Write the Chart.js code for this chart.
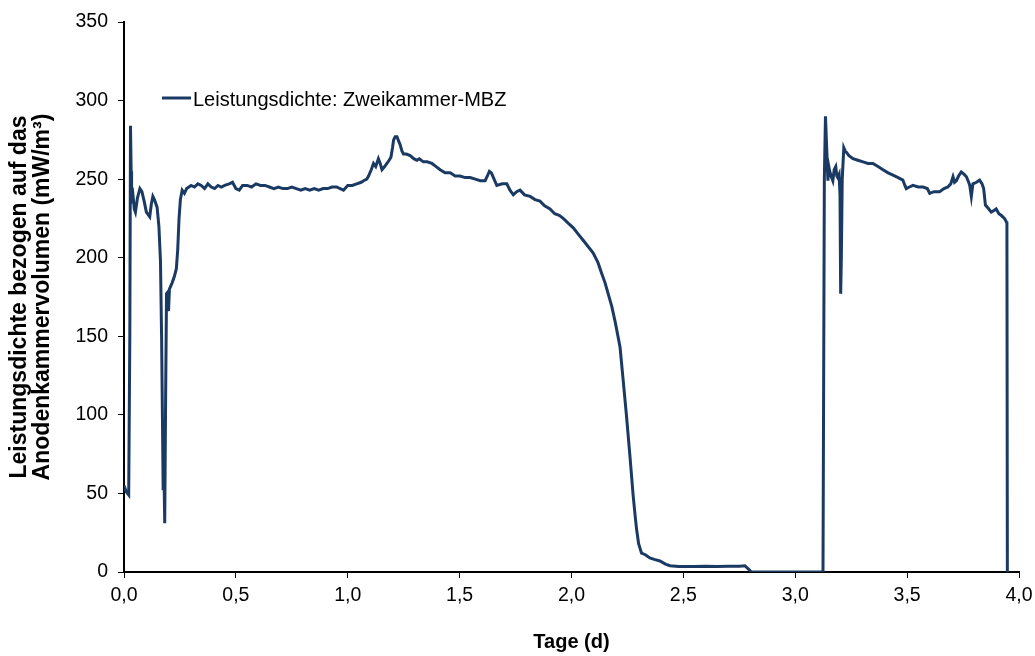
<!DOCTYPE html>
<html>
<head>
<meta charset="utf-8">
<script src="https://cdn.jsdelivr.net/npm/chart.js@4"></script>
<style>
    html, body { margin: 0; padding: 0; background: #fff; }
    #wrap { width: 1035px; height: 656px; }
</style>
</head>
<body>
<div id="wrap"><canvas id="leistungChart"></canvas></div>
<script>
// Tage (d)
const tage = [
    0.000, 0.010, 0.021, 0.026, 0.029, 0.032, 0.034, 0.040, 0.046, 0.051,
    0.060, 0.071, 0.080, 0.090, 0.100, 0.115, 0.122, 0.129, 0.136, 0.148,
    0.156, 0.163, 0.168, 0.172, 0.175, 0.179, 0.182, 0.186, 0.190, 0.195,
    0.199, 0.203, 0.215, 0.225, 0.234, 0.240, 0.246, 0.252, 0.260, 0.270,
    0.280, 0.290, 0.300, 0.315, 0.330, 0.345, 0.360, 0.375, 0.390, 0.405,
    0.420, 0.435, 0.450, 0.470, 0.485, 0.500, 0.515, 0.530, 0.550, 0.570,
    0.590, 0.610, 0.630, 0.650, 0.670, 0.690, 0.710, 0.730, 0.750, 0.770,
    0.790, 0.810, 0.830, 0.850, 0.870, 0.890, 0.910, 0.930, 0.950, 0.966,
    0.981, 1.000, 1.020, 1.040, 1.060, 1.071, 1.085, 1.093, 1.105, 1.115,
    1.125, 1.137, 1.145, 1.153, 1.165, 1.175, 1.185, 1.193, 1.200, 1.205,
    1.212, 1.220, 1.228, 1.234, 1.242, 1.249, 1.262, 1.279, 1.295, 1.309,
    1.320, 1.338, 1.355, 1.376, 1.395, 1.413, 1.435, 1.458, 1.480, 1.502,
    1.525, 1.547, 1.570, 1.592, 1.614, 1.624, 1.633, 1.642, 1.651, 1.660,
    1.666, 1.690, 1.711, 1.725, 1.740, 1.755, 1.770, 1.790, 1.815, 1.837,
    1.859, 1.880, 1.904, 1.925, 1.945, 1.963, 1.985, 2.008, 2.030, 2.053,
    2.075, 2.097, 2.118, 2.135, 2.150, 2.164, 2.180, 2.194, 2.205, 2.217,
    2.231, 2.246, 2.261, 2.276, 2.285, 2.291, 2.300, 2.313, 2.330, 2.350,
    2.370, 2.395, 2.420, 2.440, 2.480, 2.544, 2.600, 2.650, 2.700, 2.750,
    2.775, 2.790, 2.804, 2.900, 3.000, 3.100, 3.124, 3.130, 3.135, 3.141,
    3.146, 3.150, 3.154, 3.160, 3.168, 3.174, 3.181, 3.186, 3.190, 3.196,
    3.200, 3.203, 3.206, 3.210, 3.217, 3.223, 3.229, 3.240, 3.258, 3.280,
    3.303, 3.325, 3.347, 3.370, 3.392, 3.415, 3.437, 3.460, 3.481, 3.490,
    3.496, 3.510, 3.526, 3.550, 3.571, 3.590, 3.601, 3.620, 3.645, 3.665,
    3.682, 3.695, 3.705, 3.712, 3.720, 3.730, 3.742, 3.755, 3.765, 3.775,
    3.780, 3.787, 3.794, 3.810, 3.824, 3.835, 3.842, 3.850, 3.865, 3.876,
    3.888, 3.898, 3.910, 3.920, 3.935, 3.943, 3.946, 3.948
];

// Leistungsdichte (mW/m³)
const leistung = [
    55, 51, 49, 150, 284, 255, 237, 240, 231, 229,
    238, 244, 242, 236, 229, 226, 234, 239, 237, 232,
    220, 198, 150, 95, 52, 60, 31, 110, 177, 178,
    166, 180, 184, 188, 193, 205, 225, 237, 243, 241,
    244, 245, 246, 245, 247, 246, 244, 247, 245, 244,
    246, 245, 246, 247, 248, 244, 243, 246, 246, 245,
    247, 246, 246, 245, 244, 245, 244, 244, 245, 244,
    243, 244, 243, 244, 243, 244, 244, 245, 245, 244,
    243, 246, 246, 247, 248, 249, 250, 252, 256, 260,
    258, 263, 260, 256, 258, 260, 262, 264, 270, 275,
    277, 277, 274, 272, 268, 266, 266, 265, 263, 262,
    263, 261, 261, 260, 258, 256, 254, 254, 252, 252,
    251, 251, 250, 249, 249, 252, 255, 254, 251, 248,
    246, 247, 247, 243, 240, 242, 243, 240, 239, 237,
    236, 233, 231, 228, 227, 225, 222, 219, 215, 211,
    207, 203, 197, 190, 184, 177, 169, 160, 152, 143,
    122, 99, 74, 48, 35, 27, 18, 12, 11, 9,
    8, 7, 5, 4, 3.5, 3.5, 3.6, 3.5, 3.7, 3.6,
    4, 2, 0, 0, 0, 0, 0, 250, 290, 268,
    249, 258, 255, 252, 249, 256, 258, 252, 251, 253,
    240, 177, 200, 250, 270, 268, 267, 265, 263, 262,
    261, 260, 260, 258, 256, 254, 252.5, 251, 249.4, 246,
    244, 245, 246, 245, 245, 244, 241, 242, 242, 244,
    245, 247, 251.5, 248, 249, 252, 254.6, 253, 251.5, 248,
    246, 239, 247, 248, 249.4, 247, 244, 233.5, 231, 229,
    230, 231, 228, 227, 225, 223, 222, 0
];

const xTicks = [0, 0.5, 1.0, 1.5, 2.0, 2.5, 3.0, 3.5, 4.0];
const yTicks = [0, 50, 100, 150, 200, 250, 300, 350];

const serienName = 'Leistungsdichte: Zweikammer-MBZ';
const linienFarbe = '#1a3a64';
const schrift = '"Liberation Sans", Arial, sans-serif';

const punkte = tage.map((t, i) => ({ x: t, y: leistung[i] }));

// Legende innerhalb der Zeichenfläche
const legendePlugin = {
    id: 'legendeInnen',
    afterDraw(chart) {
        const ctx = chart.ctx;
        ctx.save();
        ctx.strokeStyle = linienFarbe;
        ctx.lineWidth = 3;
        ctx.beginPath();
        ctx.moveTo(162, 98);
        ctx.lineTo(191, 98);
        ctx.stroke();
        ctx.fillStyle = '#000';
        ctx.font = '20px ' + schrift;
        ctx.textBaseline = 'middle';
        ctx.fillText(serienName, 193, 100);
        ctx.restore();
    }
};

new Chart(document.getElementById('leistungChart'), {
    type: 'line',
    data: {
        datasets: [{
            label: serienName,
            data: punkte,
            borderColor: linienFarbe,
            borderWidth: 3,
            pointRadius: 0,
            tension: 0,
            fill: false
        }]
    },
    options: {
        responsive: true,
        maintainAspectRatio: false,
        animation: false,
        layout: { padding: { top: 22, right: 16, left: 0, bottom: 0 } },
        plugins: {
            legend: { display: false },
            tooltip: { enabled: false }
        },
        scales: {
            x: {
                type: 'linear',
                min: 0,
                max: 4,
                afterFit: s => {
                    s.height = 84;
                    s.paddingLeft = 0;
                    s.paddingRight = 0;
                },
                afterBuildTicks: s => { s.ticks = xTicks.map(v => ({ value: v })); },
                ticks: {
                    color: '#000',
                    font: { family: schrift, size: 19.5 },
                    padding: 6,
                    maxRotation: 0,
                    callback: v => v.toFixed(1).replace('.', ',')
                },
                grid: { drawOnChartArea: false, drawTicks: true, tickLength: 6, color: '#000', lineWidth: 1 },
                border: { color: '#000', width: 2 },
                title: {
                    display: true,
                    text: 'Tage (d)',
                    color: '#000',
                    font: { family: schrift, size: 20, weight: 'bold' },
                    padding: { top: 0, bottom: 2 }
                }
            },
            y: {
                min: 0,
                max: 350,
                afterFit: s => { s.width = 124; },
                afterBuildTicks: s => { s.ticks = yTicks.map(v => ({ value: v })); },
                ticks: {
                    color: '#000',
                    font: { family: schrift, size: 19.5 },
                    padding: 10
                },
                grid: { drawOnChartArea: false, drawTicks: true, tickLength: 6, color: '#000', lineWidth: 1 },
                border: { color: '#000', width: 2 },
                title: {
                    display: true,
                    text: ['Leistungsdichte bezogen auf das', 'Anodenkammervolumen (mW/m³)'],
                    color: '#000',
                    font: { family: schrift, size: 23, weight: 'bold', lineHeight: 1.0 },
                    padding: { top: 8, bottom: 0 }
                }
            }
        }
    },
    plugins: [legendePlugin]
});
</script>
</body>
</html>
